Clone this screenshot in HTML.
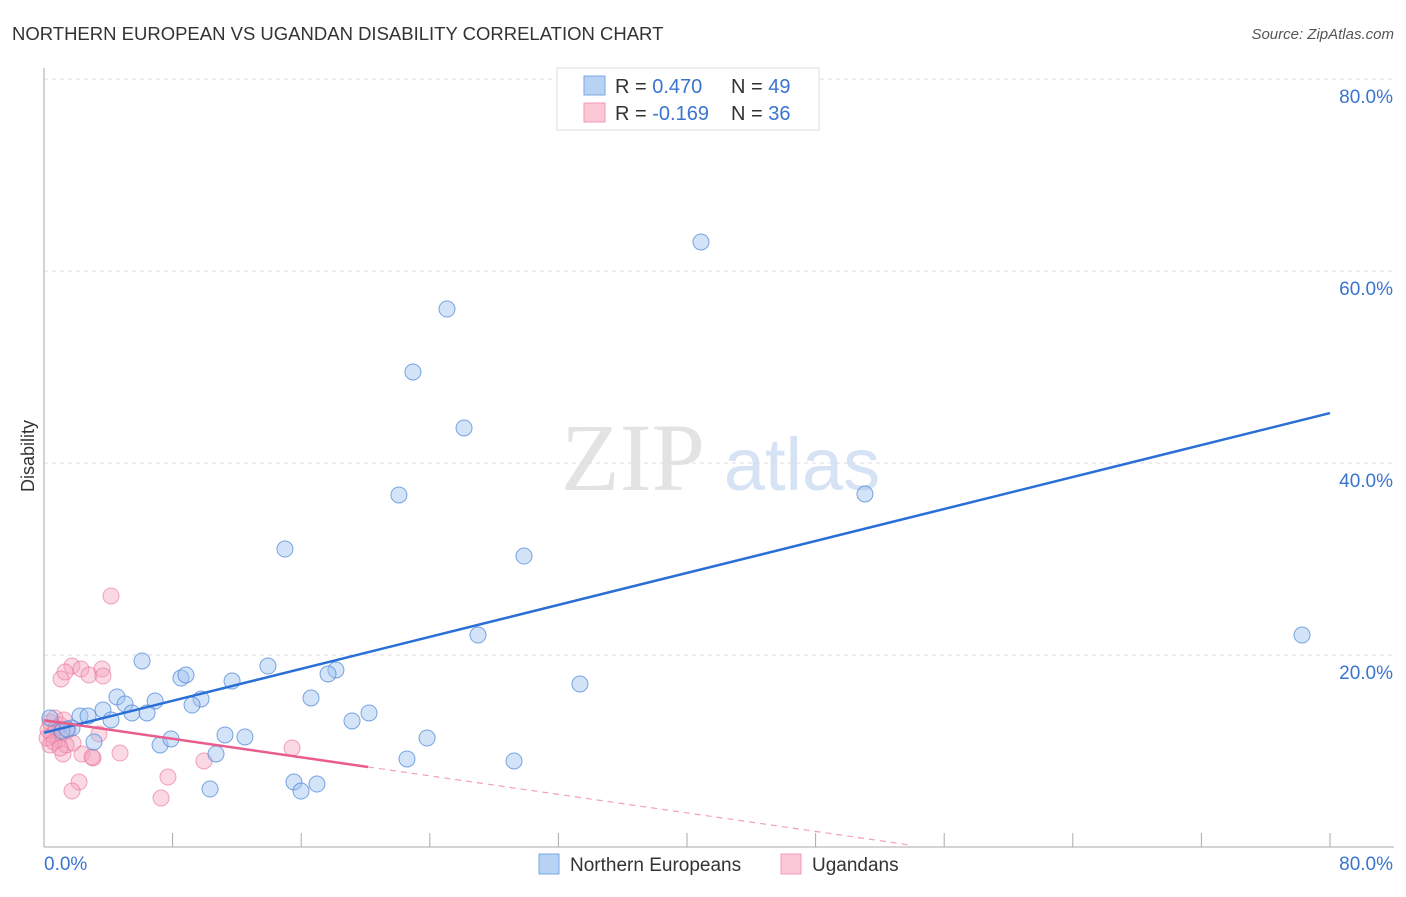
<!DOCTYPE html>
<html><head><meta charset="utf-8"><style>
body{margin:0;background:#fff;font-family:"Liberation Sans",sans-serif}
svg text{font-family:"Liberation Sans",sans-serif}
</style></head><body>
<svg id="chart" width="1406" height="892">
<text x="12" y="40" font-size="18.5" fill="#333">NORTHERN EUROPEAN VS UGANDAN DISABILITY CORRELATION CHART</text>
<text x="1394" y="39" font-size="15" fill="#555" font-style="italic" text-anchor="end">Source: ZipAtlas.com</text>
<g>
<text x="633" y="490" font-size="96" fill="#e3e3e3" text-anchor="middle" font-family="Liberation Serif" style="font-family:'Liberation Serif',serif">ZIP</text>
<text x="802" y="490" font-size="74" fill="#d5e3f5" text-anchor="middle">atlas</text>
</g>
<g id="grid"></g>
<g id="axes"></g>
<g id="marks"></g>
<text transform="translate(34,456) rotate(-90)" font-size="18" fill="#333" text-anchor="middle">Disability</text>
<g>
<rect x="557" y="68" width="262" height="62" fill="#fff" stroke="#ddd"/>
<rect x="584" y="76" width="21" height="19" fill="#b8d2f4" stroke="#7aa8e6"/>
<rect x="584" y="103" width="21" height="19" fill="#fbc8d6" stroke="#f09ab4"/>
<text x="615" y="93" font-size="20" fill="#333">R = <tspan fill="#3a74d0">0.470</tspan><tspan x="731">N = </tspan><tspan fill="#3a74d0">49</tspan></text>
<text x="615" y="120" font-size="20" fill="#333">R = <tspan fill="#3a74d0">-0.169</tspan><tspan x="731">N = </tspan><tspan fill="#3a74d0">36</tspan></text>
</g>
<g>
<rect x="539" y="854" width="20" height="20" fill="#b8d2f4" stroke="#7aa8e6"/>
<text x="570" y="871" font-size="19" fill="#333">Northern Europeans</text>
<rect x="781" y="854" width="20" height="20" fill="#fbc8d6" stroke="#f09ab4"/>
<text x="812" y="871" font-size="19" fill="#333">Ugandans</text>
</g>
</svg>
<script>
const yTicks=[20,40,60,80];
const yTickLabels=["20.0%","40.0%","60.0%","80.0%"];
const xTickValues=[0,8,16,24,32,40,48,56,64,72,80];
const xEndLabels=["0.0%","80.0%"];
const blueX=[40.87,25.07,22.95,26.13,22.08,51.07,14.99,29.86,27.0,78.26,33.34,6.10,13.93,8.52,8.83,11.70,18.16,17.67,4.54,6.91,5.04,9.77,16.61,9.21,3.67,5.47,6.41,2.24,2.74,0.37,4.17,20.22,19.16,1.74,1.12,1.43,3.11,7.22,7.90,11.26,12.50,10.70,23.83,22.58,29.24,15.55,16.98,15.99,10.33];
const blueY=[63.02,56.04,49.48,43.65,36.67,36.77,31.04,30.31,22.08,22.08,16.98,19.38,18.85,17.60,17.92,17.29,18.44,18.02,15.63,15.21,14.90,15.42,15.52,14.79,14.27,13.96,13.96,13.65,13.65,13.44,13.23,13.96,13.13,12.40,12.08,12.29,10.94,10.63,11.25,11.67,11.46,9.69,11.35,9.17,8.96,6.77,6.56,5.83,6.04];
const pinkX=[4.17,1.74,1.31,1.06,2.30,2.80,3.61,3.67,4.73,2.36,3.05,2.99,3.42,2.18,1.74,7.71,7.28,9.95,15.43,1.18,1.80,0.37,0.68,1.00,0.25,0.50,0.87,1.12,1.37,0.37,0.75,1.24,0.19,0.62,1.49,1.00];
const pinkY=[26.15,18.85,18.23,17.50,18.54,17.92,18.54,17.81,9.79,9.69,9.27,9.38,11.77,6.77,5.83,7.29,5.10,8.96,10.31,9.69,10.83,13.02,13.44,12.71,12.19,11.67,11.15,11.88,10.63,10.63,12.40,13.23,11.35,10.94,12.19,10.31];
const blueTrend=[11.9,45.2];
const pinkTrend=[13.2,0.2];
const pinkTrendX=[0,20.16,53.9];

const X=v=>44+v*16.075, Y=v=>847-v*9.6;
const NS="http://www.w3.org/2000/svg";
function mk(parent,tag,attrs){const e=document.createElementNS(NS,tag);for(const k in attrs)e.setAttribute(k,attrs[k]);document.getElementById(parent).appendChild(e);return e;}
yTicks.forEach((t,i)=>{
 const l=mk('grid','line',{x1:44,x2:1394,y1:Y(t),y2:Y(t),stroke:'#ddd','stroke-dasharray':'4,4'});
 
 
 const tx=mk('axes','text',{x:1393,y:Y(t)+24,'font-size':19,fill:'#3a74d0','text-anchor':'end'});
 tx.textContent=yTickLabels[i];
 
 
});
const ax=mk('axes','line',{x1:44,x2:44,y1:68,y2:847,stroke:'#aaa'});


const bx=mk('axes','line',{x1:44,x2:1394,y1:847,y2:847,stroke:'#aaa'});


xTickValues.forEach(v=>{
 const t=mk('axes','line',{x1:X(v),x2:X(v),y1:833,y2:847,stroke:'#aaa'});
 
 
});
const xl0=mk('axes','text',{x:44,y:870,'font-size':19,fill:'#3a74d0'});xl0.textContent=xEndLabels[0];


const xl1=mk('axes','text',{x:1393,y:870,'font-size':19,fill:'#3a74d0','text-anchor':'end'});xl1.textContent=xEndLabels[1];


pinkX.forEach((x,i)=>{
 const c=mk('marks','circle',{cx:X(x),cy:Y(pinkY[i]),r:8,fill:'rgba(246,160,188,0.4)',stroke:'rgba(232,110,150,0.6)','stroke-width':1});
 
 
});
blueX.forEach((x,i)=>{
 const c=mk('marks','circle',{cx:X(x),cy:Y(blueY[i]),r:8,fill:'rgba(160,196,240,0.45)',stroke:'rgba(70,130,215,0.7)','stroke-width':1});
 
 
});
const bl=mk('marks','line',{x1:X(0),y1:Y(blueTrend[0]),x2:X(80),y2:Y(blueTrend[1]),stroke:'#2a6fd6','stroke-width':2.5});


const slope=(pinkTrend[1]-pinkTrend[0])/(pinkTrendX[2]-pinkTrendX[0]);
const ym=pinkTrend[0]+slope*pinkTrendX[1];
const pl=mk('marks','line',{x1:X(0),y1:Y(pinkTrend[0]),x2:X(pinkTrendX[1]),y2:Y(ym),stroke:'#e85d8c','stroke-width':2.5});


const pd=mk('marks','line',{x1:X(pinkTrendX[1]),y1:Y(ym),x2:X(pinkTrendX[2]),y2:Y(pinkTrend[1]),stroke:'#f0a0bc','stroke-width':1.2,'stroke-dasharray':'6,5'});


</script>
</body></html>
